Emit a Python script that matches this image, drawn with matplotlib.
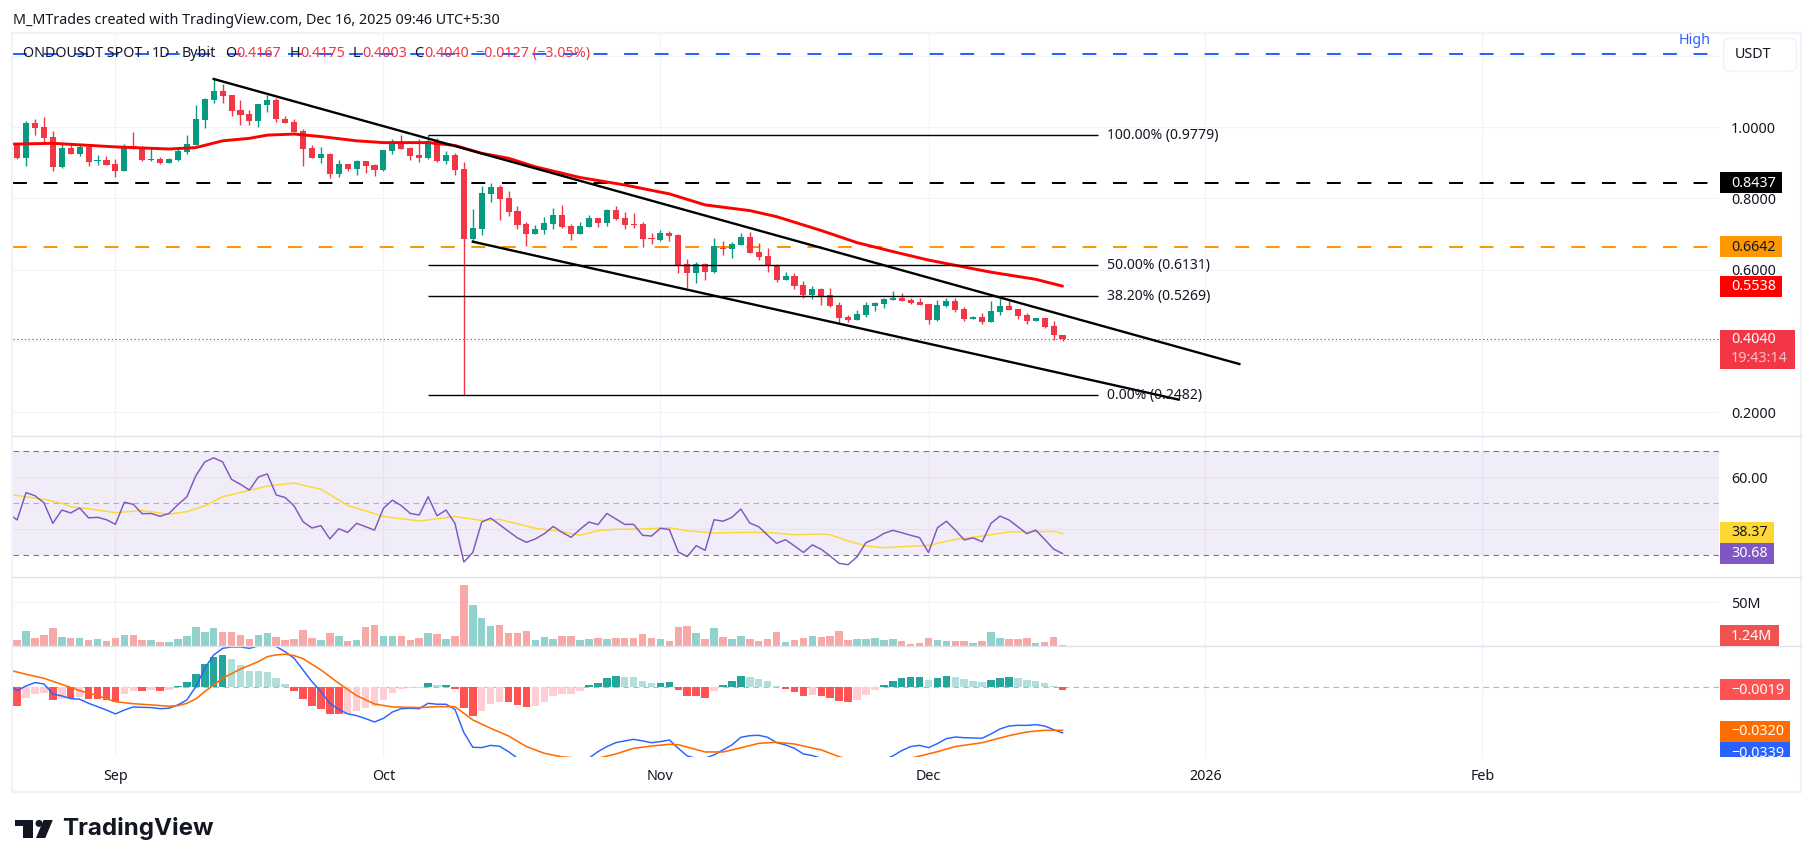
import numpy as np
import matplotlib
matplotlib.use("Agg")
import matplotlib.pyplot as plt
import matplotlib.dates as mdates
from matplotlib.patches import Rectangle, FancyBboxPatch, Polygon, Circle
from datetime import datetime

W, H = 1814, 867
FONT = "Noto Sans"
plt.rcParams["font.family"] = [FONT, "DejaVu Sans"]

# ---------- data ----------
first_day = datetime(2025, 8, 21)
opens = [.950,.914,1.012,1.001,.973,.888,.942,.925,.945,.905,.908,.897,.877,.947,.944,.908,.911,.900,.908,.931,
         .950,1.021,1.077,1.102,1.091,1.049,1.037,1.019,1.063,1.077,1.023,1.015,.990,.942,.914,.925,.869,.897,.883,.905,
         .894,.880,.933,.959,.942,.922,.914,.961,.905,.922,.883,.686,.714,.813,.832,.801,.765,.728,.700,.712,
         .728,.754,.723,.700,.720,.745,.731,.768,.745,.728,.728,.689,.683,.703,.697,.616,.591,.616,.594,.661,
         .658,.669,.692,.650,.639,.610,.571,.582,.557,.529,.546,.529,.501,.467,.459,.473,.498,.504,.515,.521,
         .515,.509,.504,.459,.498,.512,.490,.462,.467,.453,.481,.498,.490,.473,.456,.464,.442,.4167]
highs = [.955,1.018,1.023,1.029,.990,.952,.955,.952,.950,.922,.919,.911,.953,.987,.947,.942,.917,.914,.945,.978,
         1.063,1.082,1.136,1.122,1.091,1.077,1.049,1.066,1.091,1.083,1.032,1.023,.995,.950,.945,.928,.908,.897,.908,.905,
         .897,.936,.967,.978,.945,.967,.977,.969,.933,.928,.902,.770,.835,.844,.838,.821,.779,.734,.726,.748,
         .773,.782,.728,.734,.754,.745,.771,.779,.762,.759,.734,.703,.711,.709,.700,.630,.622,.619,.689,.681,
         .678,.703,.706,.675,.661,.616,.594,.591,.568,.554,.549,.549,.509,.473,.487,.509,.509,.521,.540,.535,
         .521,.521,.504,.515,.521,.521,.495,.470,.478,.512,.521,.512,.490,.478,.464,.464,.456,.4175]
lows = [.911,.891,.978,.960,.877,.886,.925,.919,.891,.894,.894,.860,.877,.940,.905,.905,.897,.900,.905,.925,
        .950,.998,1.068,1.068,1.032,1.006,1.006,1.002,1.044,1.014,1.012,.987,.891,.914,.900,.858,.860,.877,.866,.872,
        .863,.877,.925,.939,.908,.903,.911,.903,.897,.866,.2482,.681,.697,.790,.740,.751,.714,.667,.700,.700,
        .714,.717,.683,.700,.720,.720,.723,.740,.714,.717,.664,.672,.681,.681,.591,.549,.563,.571,.591,.641,
        .633,.669,.647,.627,.594,.565,.571,.546,.520,.518,.501,.495,.450,.453,.459,.467,.484,.492,.515,.512,
        .504,.501,.448,.456,.495,.481,.456,.462,.448,.453,.473,.487,.462,.448,.456,.436,.403,.4003]
closes = [.914,1.012,.999,.970,.888,.942,.925,.945,.903,.908,.894,.877,.947,.940,.908,.911,.900,.911,.933,.953,
          1.023,1.080,1.102,1.088,1.046,1.035,1.018,1.065,1.077,1.022,1.012,.987,.939,.914,.925,.869,.897,.883,.905,.891,
          .880,.936,.956,.939,.919,.914,.961,.905,.922,.880,.686,.717,.815,.832,.799,.762,.726,.700,.714,.731,
          .754,.720,.700,.723,.745,.731,.768,.742,.726,.726,.686,.686,.703,.695,.613,.591,.616,.594,.667,.658,
          .672,.692,.647,.636,.613,.571,.582,.554,.529,.546,.526,.498,.464,.459,.476,.501,.506,.518,.521,.512,
          .506,.501,.459,.501,.512,.487,.462,.467,.453,.484,.498,.487,.470,.456,.464,.439,.4167,.4040]

ema_days = [0,1,5,12,18,21,24,27,29,32,35,39,42,47,50,53,56,59,64,69,74,78,83,86,91,95,99,103,110,115,118]
ema_vals = [.953,.953,.955,.945,.939,.943,.962,.969,.978,.981,.974,.962,.957,.957,.949,.927,.913,.889,.859,.838,.813,
            .782,.766,.749,.710,.676,.651,.627,.593,.573,.5538]

rsi_first = 46.1
rsi_vals = [43.6,54.1,52.9,50.2,42.3,47.4,46.3,48.2,44.4,44.6,43.7,41.9,50.4,49.6,46.0,46.1,45.0,46.1,49.5,52.5,
            60.6,65.9,67.5,65.9,59.2,57.3,55.1,60.1,61.3,53.2,52.2,49.0,42.9,40.5,41.4,36.3,40.2,38.8,42.3,41.0,
            39.7,48.1,51.2,49.1,46.1,45.5,52.5,45.2,47.4,42.3,27.4,31.1,42.8,44.3,41.8,39.2,36.7,35.0,36.3,38.3,
            41.1,38.8,36.9,40.0,42.8,41.8,46.1,44.0,41.9,41.9,37.7,37.4,40.4,39.9,31.3,29.5,33.7,31.9,43.7,43.1,
            44.6,47.8,42.4,41.0,37.7,34.6,36.0,33.6,31.1,34.0,32.3,29.7,26.9,26.4,29.4,34.9,36.3,38.4,39.6,38.7,
            37.7,36.8,31.1,40.6,43.1,39.7,35.9,36.7,35.2,42.3,45.1,43.6,41.0,38.3,39.7,36.1,32.4,30.68]
rsi_ma_days = [0,1,4,6,7,9,12,15,18,20,22,24,27,29,32,35,38,42,46,50,53,55,59,62,64,66,68,71,74,76,79,82,85,88,91,92,94,96,98,100,103,106,109,112,115,117,118]
rsi_ma_vals = [53.4,53.0,51.5,50.0,48.7,47.9,46.4,47.2,45.8,46.8,49.0,52.5,55.0,56.6,57.8,55.4,49.2,44.9,43.2,44.9,43.4,
               43.8,40.4,39.1,37.7,39.5,40.0,40.1,40.6,39.4,38.6,38.8,38.8,37.9,38.2,37.9,35.5,33.6,32.9,33.3,33.8,
               36.1,37.4,39.0,39.1,39.2,38.37]

volumes = [7.2,17.4,9.5,12.9,20.8,10.6,9.5,9.5,7.2,8.3,6.1,9.5,12.9,12.9,7.2,7.2,4.9,4.9,8.3,11.7,
           22.0,16.3,20.8,16.3,16.3,12.9,8.3,12.9,15.2,10.6,7.2,8.3,18.6,9.5,7.2,15.2,11.7,6.1,7.2,22.0,
           24.2,11.7,11.7,11.7,7.2,9.5,15.2,14.0,8.3,11.7,69.7,47.0,32.2,23.1,24.2,15.2,15.2,17.4,7.2,10.6,
           8.3,11.7,11.7,7.2,8.3,9.5,8.3,9.5,9.5,9.5,14.0,9.5,8.3,6.1,22.0,23.1,15.2,8.3,20.8,10.6,
           8.3,11.7,8.3,6.1,8.3,16.3,4.9,7.2,9.5,11.7,10.6,11.7,17.4,7.2,8.3,8.3,9.5,7.2,8.3,6.1,
           2.7,3.8,9.5,7.2,6.1,6.1,6.1,3.8,6.1,16.3,9.5,8.3,8.3,9.5,3.8,4.9,10.6,1.24]

macd_hist = [-13.9,-7.9,-5.0,-4.2,-9.4,-8.9,-8.2,-7.4,-8.7,-8.7,-9.4,-10.7,-5.0,-2.7,-2.7,-2.0,-2.7,-2.0,1.0,4.0,
             9.9,17.4,22.6,24.1,21.1,16.6,12.2,12.2,11.4,6.9,2.5,-2.7,-8.7,-13.9,-16.1,-19.8,-19.8,-19.8,-17.6,-15.4,
             -13.9,-9.4,-4.2,-1.2,-0.5,-0.5,3.2,1.7,1.7,-1.2,-15.4,-21.3,-17.6,-12.4,-10.9,-10.9,-13.1,-14.6,-13.9,-10.9,
             -6.4,-5.0,-5.0,-2.7,1.7,3.2,6.9,8.4,7.7,7.7,4.7,3.2,3.2,4.0,-2.0,-6.4,-6.4,-7.9,-2.7,1.7,
             4.7,8.4,7.7,6.2,4.7,1.0,-1.2,-3.5,-6.4,-5.7,-6.4,-7.9,-10.2,-10.9,-9.4,-5.7,-2.0,1.7,4.7,6.9,
             7.7,7.7,5.5,6.9,8.4,7.7,6.2,4.7,4.0,5.5,6.9,7.7,6.9,5.5,4.7,3.2,1.0,-1.9]
macd_shade = ("RrrrRrRrRRRRrrRrRrGGGGGGggggggg" + "RRRRRR" + "rrrrrrrrr" + "GgG" + "RRR" + "rrr" + "RRR" + "rrrrrr"
              + "GGGG" + "gggg" + "GG" + "RRRR" + "r" + "GGG" + "gggg" + "RRR" + "r" + "RRRR" + "rrr"
              + "GGGGG" + "g" + "GG" + "gggg" + "GGG" + "ggggg" + "R")

macd_first = 2.5
macd_line = [-2.5,1.0,3.5,2.5,-5.0,-6.4,-8.4,-8.9,-11.9,-14.4,-16.9,-19.8,-16.9,-14.6,-14.9,-15.1,-15.9,-15.6,-13.1,-9.4,
             0.5,14.1,24.1,29.0,30.0,30.0,29.0,30.8,31.5,30.3,26.5,21.6,12.9,4.2,-3.2,-11.9,-16.4,-19.8,-21.1,-23.3,
             -25.8,-23.1,-18.4,-15.9,-15.6,-15.9,-11.9,-12.6,-12.6,-16.4,-33.7,-44.6,-44.9,-43.2,-43.9,-47.9,-52.8,-56.1,-59.0,-60.3,
             -61.5,-61.5,-60.3,-56.5,-52.8,-47.9,-44.1,-41.2,-39.9,-38.7,-39.9,-41.2,-40.4,-39.2,-45.4,-51.1,-52.8,-52.8,-50.3,-46.6,
             -42.9,-37.2,-36.0,-35.7,-37.2,-41.2,-42.9,-45.4,-49.6,-50.8,-52.8,-56.5,-60.3,-62.7,-62.7,-60.3,-57.8,-54.1,-51.1,-47.1,
             -44.1,-43.2,-44.9,-41.9,-38.2,-37.0,-37.5,-37.7,-37.9,-34.7,-31.0,-28.8,-28.3,-28.3,-27.8,-28.8,-31.5,-33.9]
signal_days = [0,2,4,6,8,10,12,14,16,18,19,20,21,22,23,24,26,28,29,30,31,32,33,35,37,39,41,43,46,48,50,52,54,56,58,60,62,64,66,68,70,72,74,75,78,80,81,84,86,88,91,93,95,99,101,104,106,109,112,114,116,118]
signal_vals = [13.0,9.7,6.7,2.2,-2.5,-6.2,-10.7,-12.2,-13.1,-14.1,-13.6,-11.9,-8.7,-3.2,1.7,6.7,13.6,19.1,22.8,24.1,
               24.6,23.6,21.3,12.9,3.0,-6.2,-12.4,-14.6,-15.1,-14.4,-14.4,-24.3,-30.5,-36.2,-44.1,-49.1,-51.8,-52.8,-52.8,-49.6,
               -45.4,-43.7,-42.4,-42.7,-48.1,-48.1,-46.6,-41.7,-40.9,-42.2,-46.6,-51.6,-55.3,-56.5,-52.8,-47.9,-44.1,-41.2,-36.0,-33.2,
               -32.0,-32.0]

fib_levels = [.9779, .6131, .5269, .2482]
fib_labels = ["100.00% (0.9779)", "50.00% (0.6131)", "38.20% (0.5269)", "0.00% (0.2482)"]
upper_trend_dates = ["2025-09-12 00:00", "2026-01-04 19:00"]
upper_trend_prices = [1.1357, .335]
lower_trend_dates = ["2025-10-11 00:00", "2025-12-29 00:00"]
lower_trend_prices = [.6787, .235]
fib_span = ["2025-10-06", "2025-12-20"]
month_ticks = ["2025-09-01", "2025-10-01", "2025-11-01", "2025-12-01", "2026-01-01", "2026-02-01"]
month_labels = ["Sep", "Oct", "Nov", "Dec", "2026", "Feb"]

# ---------- layout ----------
fig = plt.figure(figsize=(W / 100, H / 100), dpi=100, facecolor="white")
PL, PR = 13, 1719
def make_ax(top, bottom):
    ax = fig.add_axes([PL / W, 1 - bottom / H, (PR - PL) / W, (bottom - top) / H])
    ax.set_facecolor("none")
    for s in ax.spines.values():
        s.set_visible(False)
    ax.tick_params(length=0)
    return ax

ax_p = make_ax(33, 436.3)
ax_r = make_ax(436.3, 577)
ax_v = make_ax(577, 646.3)
ax_m = make_ax(646.3, 756.7)

base = mdates.date2num(first_day)
days = np.arange(1, len(closes) + 1)
xs = base + days - 1
def day_x(d):
    return base + np.asarray(d) - 1
def dn(s):
    return mdates.date2num(datetime.fromisoformat(s))

xmin, xmax = base - 0.46, base + 190.47
for a in (ax_p, ax_r, ax_v, ax_m):
    a.set_xlim(xmin, xmax)
    a.set_xticks([dn(m) for m in month_ticks])
    a.grid(True, axis="x", color="#f0f3fa", lw=0.75, zorder=0)
    a.set_axisbelow(True)
    if a is not ax_m:
        a.set_xticklabels([])

GRID = "#f0f3fa"
TXT = "#131722"
FS = 10.3

def right_ticks(a, ticks, labels, gridon=True):
    a.yaxis.tick_right()
    a.set_yticks(ticks)
    a.set_yticklabels(labels, fontsize=FS, color=TXT, ha="left")
    a.tick_params(axis="y", pad=8.5, length=0)
    if gridon:
        a.grid(True, axis="y", color=GRID, lw=0.75, zorder=0)

# ---------- price pane ----------
ax_p.set_ylim(1 - (436.3 - 127.3) / 356, 1 + (127.3 - 33) / 356)
right_ticks(ax_p, [1.2, 1.0, .8, .6, .4, .2], ["", "1.0000", "0.8000", "0.6000", "", "0.2000"])

o, hi, lo, c = map(np.array, (opens, highs, lows, closes))
UP, DOWN = "#089981", "#F23645"
cols = [UP if cc >= oo else DOWN for oo, cc in zip(o, c)]
ax_p.vlines(xs, lo, hi, colors=cols, lw=1.0, zorder=3)
ax_p.bar(xs, np.maximum(np.abs(c - o), .0015), bottom=np.minimum(o, c), width=0.68, color=cols, zorder=3, lw=0)

ax_p.plot(day_x(ema_days), ema_vals, color="#FF0000", lw=2.1, zorder=4, solid_capstyle="round")

dash = (0, (10 / 1.45, 12 / 1.45))
ax_p.axhline(1.2073, color="#2962FF", lw=1.45, ls=dash, zorder=2)
ax_p.axhline(.8437, color="#000000", lw=1.45, ls=dash, zorder=2)
ax_p.axhline(.6642, color="#FF9800", lw=1.45, ls=dash, zorder=2)
ax_p.axhline(.4040, color="#F23645", lw=0.8, ls=(0, (1.2, 2.2)), zorder=2)

for lv, lb in zip(fib_levels, fib_labels):
    ax_p.hlines(lv, dn(fib_span[0]), dn(fib_span[1]), color="black", lw=1.0, zorder=5)
    ax_p.annotate(lb, xy=(dn(fib_span[1]), lv), xytext=(6.3, -0.4), textcoords="offset points",
                  ha="left", va="center", fontsize=FS - .2, color=TXT, zorder=6)

ax_p.plot([dn(s) for s in upper_trend_dates], upper_trend_prices, color="black", lw=1.7, zorder=5)
ax_p.plot([dn(s) for s in lower_trend_dates], lower_trend_prices, color="black", lw=1.7, zorder=5)

# ---------- RSI ----------
ax_r.set_ylim(50 - (577 - 503.3) / 2.6, 50 + (503.3 - 436.3) / 2.6)
right_ticks(ax_r, [60, 40], ["60.00", ""])
ax_r.axhspan(30, 70, color="#7E57C2", alpha=0.11, lw=0, zorder=1)
for lv, al in ((70, 1), (50, .55), (30, 1)):
    ax_r.axhline(lv, color="#787B86", lw=0.8, ls=(0, (5, 4)), alpha=al, zorder=2)
ax_r.plot(np.r_[base - 1, xs], np.r_[rsi_first, rsi_vals], color="#7E57C2", lw=1.05, zorder=4)
ax_r.plot(day_x(rsi_ma_days), rsi_ma_vals, color="#FDD835", lw=1.05, zorder=3)

# ---------- volume ----------
ax_v.set_ylim(0, 69.3 * 50 / 44)
right_ticks(ax_v, [50], ["50M"])
vcols = ["#92D2CC" if cc >= oo else "#F7A9A7" for oo, cc in zip(o, c)]
ax_v.bar(xs, volumes, width=0.84, color=vcols, lw=0, zorder=3)

# ---------- MACD ----------
ax_m.set_ylim(-(756.7 - 687.3) / 1.344, (687.3 - 646.3) / 1.344)
ax_m.set_yticks([])
ax_m.axhline(0, color="#787B86", lw=0.8, ls=(0, (5, 4)), alpha=.55, zorder=2)
shade = {"G": "#26A69A", "g": "#B2DFDB", "R": "#FF5252", "r": "#FFCDD2"}
ax_m.bar(xs, macd_hist, width=0.84, color=[shade[s] for s in macd_shade], lw=0, zorder=3)
ax_m.plot(np.r_[base - 1, xs], np.r_[macd_first, macd_line], color="#2962FF", lw=1.05, zorder=4)
ax_m.plot(day_x(signal_days), signal_vals, color="#FF6D00", lw=1.15, zorder=5)
ax_m.set_xticklabels(month_labels, fontsize=FS, color=TXT)
ax_m.get_xticklabels()[4].set_fontweight("bold")
ax_m.tick_params(axis="x", pad=8.7, length=0)

# ---------- overlay: frame, tags, legend ----------
ov = fig.add_axes([0, 0, 1, 1], zorder=20)
ov.set_xlim(0, W)
ov.set_ylim(H, 0)
ov.axis("off")
ov.patch.set_alpha(0)

ov.add_patch(Rectangle((11.8, 33), 1789.2, 758.5, fill=False, ec="#f0f3fa", lw=1.6))
for y in (436.3, 577, 646.3):
    ov.plot([13, 1801], [y, y], color="#e0e3eb", lw=1.0)

def px_y(ax, v):
    return H - ax.transData.transform((0, v))[1]

def tag(ax, val, text, bg, fg, right, shift=0, h=21, clip=None):
    cy = px_y(ax, val) + shift
    r = Rectangle((1720, cy - h / 2), right - 1720, h, color=bg, lw=0, zorder=3)
    ov.add_patch(r)
    t = ov.text(1731, cy + .3, text, color=fg, fontsize=FS, va="center", ha="left", zorder=4)
    if clip is not None:
        cp = Rectangle((1700, clip[0]), 110, clip[1] - clip[0], transform=ov.transData)
        r.set_clip_path(cp)
        t.set_clip_path(cp)
        t.set_clip_on(True)

tag(ax_p, .8437, "0.8437", "#000000", "white", 1782)
tag(ax_p, .6642, "0.6642", "#FF9800", TXT, 1782)
tag(ax_p, .5538, "0.5538", "#FF0000", "white", 1782)
cy = px_y(ax_p, .4040)
ov.add_patch(Rectangle((1720, 330), 75, 38.7, color="#F23645", lw=0, zorder=3))
ov.text(1731, cy, "0.4040", color="white", fontsize=FS, va="center", zorder=4)
ov.text(1731, 358.7, "19:43:14", color="#FBC2C7", fontsize=FS, va="center", zorder=4)
tag(ax_r, 38.37, "38.37", "#FDD835", TXT, 1774, shift=-1.2)
tag(ax_r, 30.68, "30.68", "#7E57C2", "white", 1774)
tag(ax_v, 1.24, "1.24M", "#EF5350", "white", 1779, shift=-9.5)
tag(ax_m, -1.9, "\u22120.0019", "#FF5252", "white", 1790)
tag(ax_m, -32.0, "\u22120.0320", "#FF6D00", "white", 1790, shift=1)
tag(ax_m, -33.9, "\u22120.0339", "#2962FF", "white", 1790, shift=20, clip=(742, 756.7))

ov.add_patch(FancyBboxPatch((1727, 42), 66, 26, boxstyle="round,pad=3.5,rounding_size=6",
                            fc="white", ec="#f0f3fa", lw=1.2, zorder=3))
ov.text(1735, 54.5, "USDT", color=TXT, fontsize=FS, va="center", zorder=4)
ov.text(1679, 41, "High", color="#2962FF", fontsize=FS, va="center", zorder=4)

ov.text(13, 20, "M_MTrades created with TradingView.com, Dec 16, 2025 09:46 UTC+5:30",
        color=TXT, fontsize=FS, va="center")
LEG_Y = 53.5
for x, s, col in [(23, "ONDOUSDT SPOT", TXT), (146, "\u00b7", TXT), (152, "1D", TXT), (175, "\u00b7", TXT),
                  (182, "Bybit", TXT), (225.5, "O", TXT), (236, "0.4167", DOWN), (290, "H", TXT), (300, "0.4175", DOWN),
                  (353, "L", TXT), (362, "0.4003", DOWN), (414.5, "C", TXT), (424, "0.4040", DOWN),
                  (476, "\u22120.0127 (\u22123.05%)", DOWN)]:
    ov.text(x, LEG_Y, s, color=col, fontsize=FS, va="center", zorder=6)

# logo
DARK = "#131722"
ov.add_patch(Polygon([(15, 820), (33.3, 820), (33.3, 838), (22.7, 838), (22.7, 826), (15, 826)], color=DARK, lw=0))
ov.add_patch(Circle((39, 823.4), 3.5, color=DARK, lw=0))
ov.add_patch(Polygon([(43.5, 820), (52.8, 820), (45.3, 838), (36, 838)], color=DARK, lw=0))
ov.text(62.5, 829, "TradingView", color=DARK, family="Inter", fontsize=17.4, fontweight="bold", va="center")

fig.savefig("out.png", dpi=100, facecolor="white")
